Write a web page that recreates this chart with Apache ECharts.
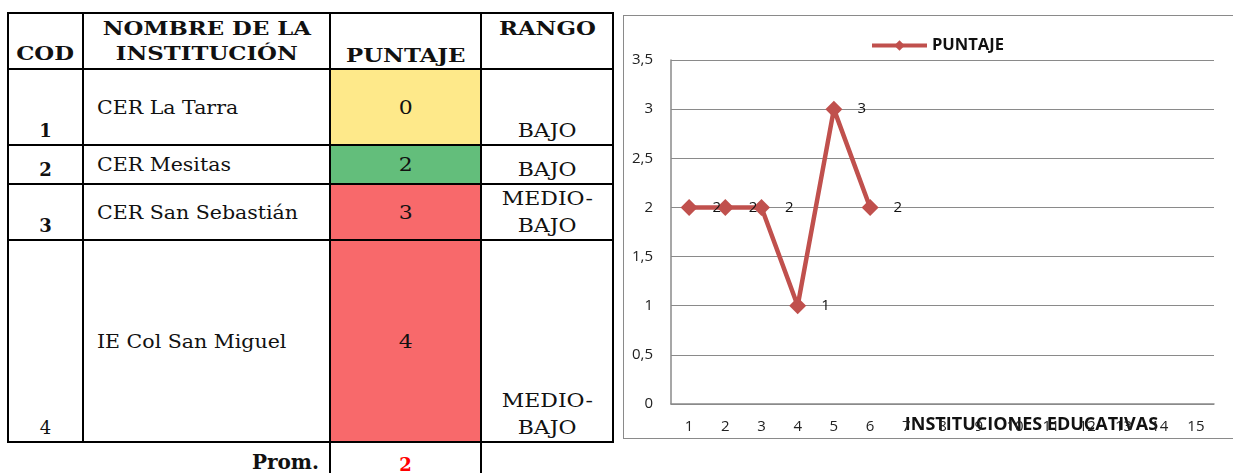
<!DOCTYPE html>
<html><head><meta charset="utf-8">
<script src="https://cdn.jsdelivr.net/npm/echarts@6/dist/echarts.min.js"></script>
<style>
html,body{margin:0;padding:0;background:#fff;}
body{width:1233px;height:473px;overflow:hidden;position:relative;font-family:"DejaVu Serif",serif;color:#111;}
#tbl{position:absolute;left:7px;top:12px;border-collapse:collapse;table-layout:fixed;}
#tbl td{border:2px solid #000;padding:0;font-size:18px;line-height:27px;overflow:hidden;white-space:nowrap;}
#tbl tr.hdr td{font-weight:bold;font-size:19px;line-height:25px;}
#tbl td.cod{text-align:center;vertical-align:bottom;}
#tbl td.name{text-align:left;vertical-align:middle;padding-left:13px;}
#tbl td.score{text-align:center;vertical-align:middle;}
#tbl td.rango{text-align:center;vertical-align:bottom;}
#tbl tr.prom td{border:none;}
#tbl tr.prom td.pv{border-left:2px solid #000;border-right:2px solid #000;border-top:2px solid #000;color:#f00;font-weight:bold;text-align:center;vertical-align:top;padding-top:8px;}
#tbl tr.prom td.pl{text-align:right;font-weight:bold;font-size:20px;padding-right:10px;vertical-align:top;padding-top:6px;}
.sx{display:inline-block;}
.hs{transform:scaleX(1.2);transform-origin:center;}
.ns{transform:scaleX(1.14);transform-origin:left center;}
.rs{transform:scaleX(1.22);transform-origin:center;}
#frame{position:absolute;left:623px;top:15px;width:640px;height:424px;border:1.5px solid #8a8a8a;box-sizing:border-box;}
#chart{position:absolute;left:615px;top:0;width:618px;height:473px;}
</style></head>
<body>
<table id="tbl"></table>
<div id="frame"></div>
<div id="chart"></div>
<script>
// ---- table data ----
const headers = ['COD', 'NOMBRE DE LA INSTITUCIÓN', 'PUNTAJE', 'RANGO'];
const codes = ['1', '2', '3', '4'];
const names = ['CER La Tarra', 'CER Mesitas', 'CER San Sebastián', 'IE Col San Miguel'];
const scores = [0, 2, 3, 4];
const ranges = ['BAJO', 'BAJO', 'MEDIO-BAJO', 'MEDIO-BAJO'];
const promLabel = 'Prom.';
const promValue = 2;

// ---- chart data ----
const xCategories = ['1','2','3','4','5','6','7','8','9','10','11','12','13','14','15'];
const puntaje = [2, 2, 2, 1, 3, 2];
const seriesName = 'PUNTAJE';
const xAxisName = 'INSTITUCIONES EDUCATIVAS';

// ---- styles (layout only) ----
const colWidths = [75, 247, 151, 132];
const rowHeights = [56, 76, 39, 56, 202];
const scoreColors = {0: '#FEE98A', 2: '#63BE7B', 3: '#F8696B', 4: '#F8696B'};

const tbl = document.getElementById('tbl');
const cg = document.createElement('colgroup');
colWidths.forEach(w => { const c = document.createElement('col'); c.style.width = w + 'px'; cg.appendChild(c); });
tbl.appendChild(cg);

function esc(s){return s.replace(/&/g,'&amp;').replace(/</g,'&lt;');}
function hs(s){return '<span class="sx hs">' + s + '</span>';}
// header
let h = document.createElement('tr'); h.className = 'hdr'; h.style.height = rowHeights[0] + 'px';
const nameHdr = headers[1].replace(' INSTITUCIÓN', '');
h.innerHTML =
  '<td style="text-align:center;vertical-align:bottom;padding-bottom:2px">' + hs(headers[0]) + '</td>' +
  '<td style="text-align:center;vertical-align:bottom;padding-bottom:2px">' + hs(nameHdr) + '<br>' + hs('INSTITUCIÓN') + '</td>' +
  '<td style="text-align:center;vertical-align:bottom;padding-bottom:0px">' + hs(headers[2]) + '</td>' +
  '<td style="text-align:center;vertical-align:top;padding-top:2px">' + hs(headers[3]) + '</td>';
tbl.appendChild(h);
for (let i = 0; i < codes.length; i++) {
  const tr = document.createElement('tr');
  tr.style.height = rowHeights[i + 1] + 'px';
  const r = ranges[i].split('-').map((p, k, a) => '<span class="sx rs">' + p + (k < a.length - 1 ? '-' : '') + '</span>').join('<br>');
  tr.innerHTML =
    '<td class="cod"' + (i < 3 ? ' style="font-weight:bold"' : '') + '>' + codes[i] + '</td>' +
    '<td class="name"><span class="sx ns">' + esc(names[i]) + '</span></td>' +
    '<td class="score" style="background:' + scoreColors[scores[i]] + '"><span class="sx rs">' + scores[i] + '</span></td>' +
    '<td class="rango">' + r + '</td>';
  tbl.appendChild(tr);
}
const pr = document.createElement('tr'); pr.className = 'prom'; pr.style.height = '40px';
pr.innerHTML = '<td class="pl" colspan="2">' + promLabel + '</td><td class="pv">' + promValue + '</td><td></td>';
tbl.appendChild(pr);

// ---- chart ----
const chart = echarts.init(document.getElementById('chart'), null, {renderer: 'canvas'});
const sans = '"Open Sans", "Noto Sans", sans-serif';
chart.setOption({
  animation: false,
  backgroundColor: 'transparent',
  legend: {
    data: [seriesName], left: 250, top: 32,
    itemWidth: 55, itemHeight: 13, itemGap: 4,
    lineStyle: {width: 4},
    textStyle: {fontFamily: sans, fontWeight: 'bold', fontSize: 16.5, color: '#111'}
  },
  grid: {left: 56, right: 19, top: 60, bottom: 69, containLabel: false},
  xAxis: {
    type: 'category', data: xCategories, boundaryGap: true,
    axisLine: {lineStyle: {color: '#8a8a8a', width: 1.5}},
    axisTick: {show: false},
    axisLabel: {fontFamily: sans, fontSize: 15, color: '#222', margin: 15},
    name: xAxisName, nameLocation: 'middle', nameGap: 12, nameMoveOverlap: false,
    nameTextStyle: {fontFamily: sans, fontWeight: 'bold', fontSize: 18, color: '#111', padding: [0, 0, 0, 178]}
  },
  yAxis: {
    type: 'value', min: 0, max: 3.5, interval: 0.5,
    axisLine: {show: true, lineStyle: {color: '#8a8a8a', width: 1.5}},
    axisTick: {show: false},
    splitLine: {lineStyle: {color: '#8a8a8a', width: 1.2}},
    axisLabel: {fontFamily: sans, fontSize: 15, color: '#222', margin: 18,
      formatter: v => String(v).replace('.', ',')}
  },
  series: [{
    name: seriesName, type: 'line', data: puntaje,
    symbol: 'diamond', symbolSize: 17,
    lineStyle: {color: '#C0504D', width: 4.5},
    itemStyle: {color: '#C0504D'},
    label: {show: true, position: 'right', distance: 15, fontFamily: sans, fontSize: 15, color: '#111'}
  }]
});
</script>
</body></html>
